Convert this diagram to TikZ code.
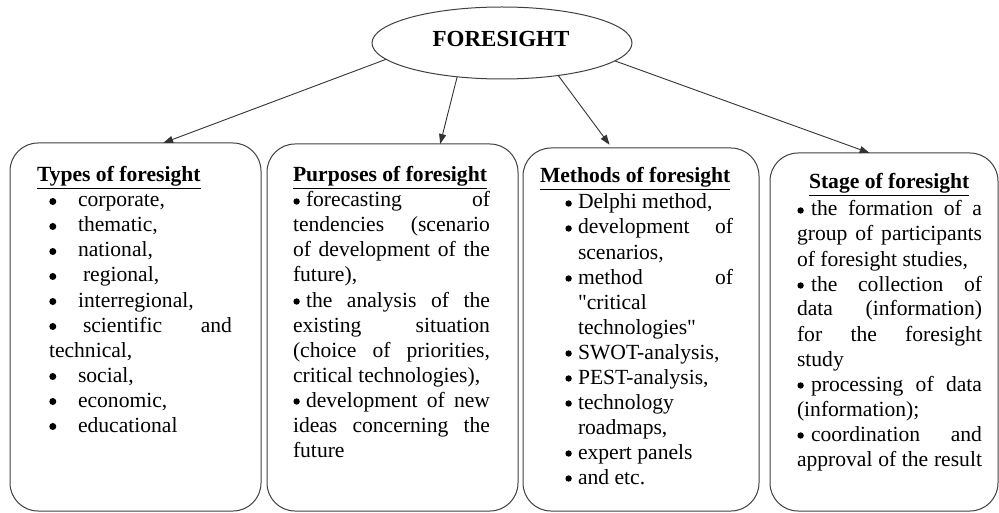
\documentclass[tikz,border=0pt]{standalone}
\usepackage{fontspec}
\setmainfont{Liberation Serif}[Ligatures=TeXOff]
\usetikzlibrary{arrows.meta,calc,shapes.geometric}

% room for a bullet, so the text after it starts at a fixed place
\newcommand\bl[1]{\makebox[#1]{}}
% a justified line of the given width
\newcommand\jl[2]{\makebox[#1][s]{#2}}

\tikzset{
  panel/.style={draw=black!75, line width=1pt, rounded corners=28pt,
    anchor=north west, inner sep=0pt, outer sep=0pt},
  topic/.style={ellipse, draw=black!75, line width=1pt, inner sep=0pt, outer sep=0pt,
    minimum width=260pt, minimum height=72pt},
  txt/.style={anchor=base west, inner sep=0pt, outer sep=0pt,
    font=\fontsize{21.6pt}{25pt}\selectfont},
  head/.style={txt, font=\fontsize{21.6pt}{25pt}\selectfont\bfseries},
  arr/.style={draw=black!80, line width=0.9pt, -{Triangle[length=10pt,width=7pt]}},
  dotfill/.style={fill=black},
}

\begin{document}
\begin{tikzpicture}[x=1pt,y=-1pt]
\useasboundingbox (0,0) rectangle (999,513);

% central topic
\node[topic] (fs) at (502,43) {};
\node[inner sep=0pt, font=\fontsize{23pt}{27pt}\selectfont\bfseries] (fslabel) at (501,39) {FORESIGHT};

% the four panels
\node[panel, minimum width=251pt, minimum height=368pt] (b1) at (10,143) {};
\node[panel, minimum width=251pt, minimum height=367pt] (b2) at (267,144) {};
\node[panel, minimum width=236pt, minimum height=363pt] (b3) at (523,148) {};
\node[panel, minimum width=228pt, minimum height=358pt] (b4) at (770,153) {};

% connectors
\draw[arr] (fs.188) -- ($(b1.north west)!0.61!(b1.north east)$);
\draw[arr] (fs.217) -- ($(b2.north west)!0.69!(b2.north east)$);
\draw[arr, shorten >=4pt] (fs.330) -- ($(b3.north west)!0.377!(b3.north east)$);
\draw[arr] (fs.351.5) -- ($(b4.north west)!0.437!(b4.north east)$);

% Types of foresight
\node[head] (h1) at (37,182) {\underline{Types of foresight}};
\node[txt] (t1a) at (49,207) {\bl{29pt}corporate,};
\node[txt] (t1b) at (49,232) {\bl{29pt}thematic,};
\node[txt] (t1c) at (49,257) {\bl{29pt}national,};
\node[txt] (t1d) at (49,282) {\bl{34pt}regional,};
\node[txt] (t1e) at (49,307) {\bl{29pt}interregional,};
\node[txt] (t1f) at (49,332) {\jl{183pt}{\bl{34pt}scientific and}};
\node[txt] (t1g) at (49,357) {technical,};
\node[txt] (t1h) at (49,382) {\bl{29pt}social,};
\node[txt] (t1i) at (49,407) {\bl{29pt}economic,};
\node[txt] (t1j) at (49,432) {\bl{29pt}educational};

% Purposes of foresight
\node[head] (h2) at (293,182) {\underline{Purposes of foresight}};
\node[txt] (t2a) at (293,207) {\jl{197pt}{\bl{13pt}forecasting of}};
\node[txt] (t2b) at (293,232) {\jl{197pt}{tendencies (scenario}};
\node[txt] (t2c) at (293,257) {\jl{197pt}{of development of the}};
\node[txt] (t2d) at (293,282) {future),};
\node[txt] (t2e) at (293,307) {\jl{197pt}{\bl{13pt}the analysis of the}};
\node[txt] (t2f) at (293,332) {\jl{197pt}{existing situation}};
\node[txt] (t2g) at (293,357) {\jl{197pt}{(choice of priorities,}};
\node[txt] (t2h) at (293,382) {critical technologies),};
\node[txt] (t2i) at (293,407) {\jl{197pt}{\bl{13pt}development of new}};
\node[txt] (t2j) at (293,432) {\jl{197pt}{ideas concerning the}};
\node[txt] (t2k) at (293,457) {future};

% Methods of foresight
\node[head] (h3) at (540,183) {\underline{Methods of foresight}};
\node[txt] (t3a) at (565,209) {\bl{13pt}Delphi method,};
\node[txt] (t3b) at (565,234) {\jl{168pt}{\bl{13pt}development of}};
\node[txt] (t3c) at (578,259) {scenarios,};
\node[txt] (t3d) at (565,284) {\jl{168pt}{\bl{13pt}method of}};
\node[txt] (t3e) at (578,309) {"critical};
\node[txt] (t3f) at (578,334) {technologies"};
\node[txt] (t3g) at (565,359) {\bl{13pt}SWOT-analysis,};
\node[txt] (t3h) at (565,384) {\bl{13pt}PEST-analysis,};
\node[txt] (t3i) at (565,409) {\bl{13pt}technology};
\node[txt] (t3j) at (578,434) {roadmaps,};
\node[txt] (t3k) at (565,459) {\bl{13pt}expert panels};
\node[txt] (t3l) at (565,484) {\bl{13pt}and etc.};

% Stage of foresight
\node[head] (h4) at (809,189) {\underline{Stage of foresight}};
\node[txt] (t4a) at (797,216) {\jl{185pt}{\bl{14pt}the formation of a}};
\node[txt] (t4b) at (797,241) {\jl{185pt}{group of participants}};
\node[txt] (t4c) at (797,266) {of foresight studies,};
\node[txt] (t4d) at (797,291) {\jl{185pt}{\bl{14pt}the collection of}};
\node[txt] (t4e) at (797,316) {\jl{185pt}{data (information)}};
\node[txt] (t4f) at (797,341) {\jl{185pt}{for the foresight}};
\node[txt] (t4g) at (797,366) {study};
\node[txt] (t4h) at (797,391) {\jl{185pt}{\bl{14pt}processing of data}};
\node[txt] (t4i) at (797,416) {(information);};
\node[txt] (t4j) at (797,441) {\jl{185pt}{\bl{14pt}coordination and}};
\node[txt] (t4k) at (797,466) {\jl{185pt}{approval of the result}};

% list bullets, set at the start of each bulleted line
\foreach \n in {t1a,t1b,t1c,t1d,t1e,t1f,t1h,t1i,t1j}
  \fill[dotfill] ($(\n.base west)+(3.8,-5.5)$) circle (3.5pt);
\foreach \n in {t2a,t2e,t2i,t3a,t3b,t3d,t3g,t3h,t3i,t3k,t3l,t4a,t4d,t4h,t4j}
  \fill[dotfill] ($(\n.base west)+(3.6,-5.5)$) circle (3.2pt);
\end{tikzpicture}
\end{document}
